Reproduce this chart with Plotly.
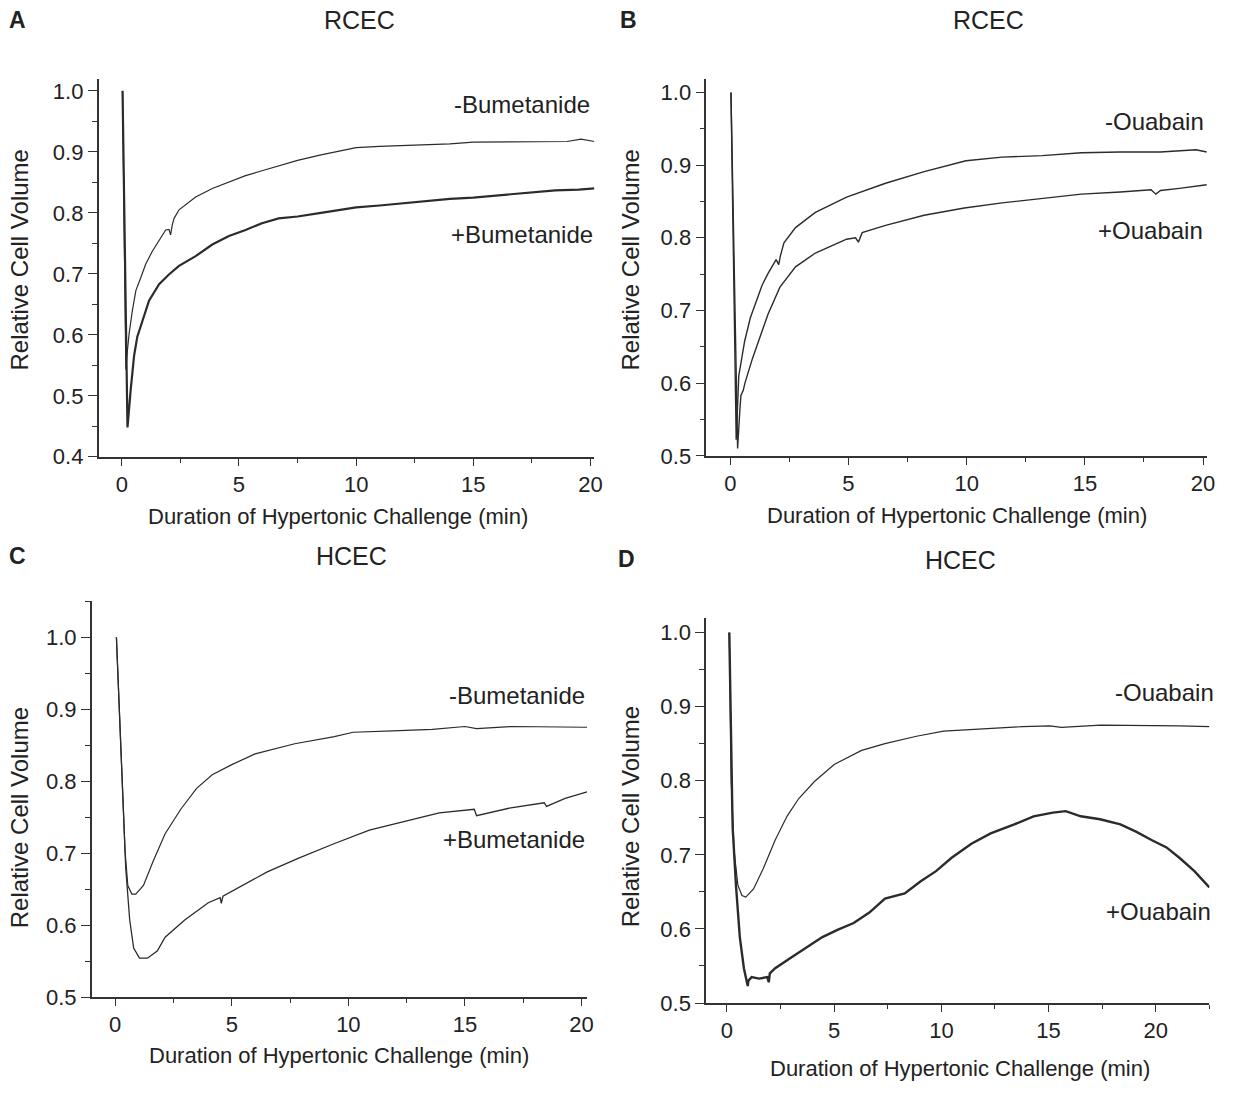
import plotly.graph_objects as go

W, H = 1233, 1095

# ---------------- Data ----------------
# Panel A: RCEC, -/+ Bumetanide
a_minus_t = [0.03, 0.10, 0.17, 0.24, 0.31, 0.45, 0.60, 0.81, 1.02, 1.30, 1.59, 1.87, 2.01, 2.08, 2.15, 2.23,
             2.44, 3.15, 3.86, 4.57, 5.28, 5.98, 6.69, 7.5, 8.5, 10.0, 11.0, 12.5, 14.0, 15.0, 16.5, 18.0,
             19.0, 19.6, 20.17]
a_minus_v = [1.000, 0.800, 0.543, 0.575, 0.602, 0.640, 0.673, 0.694, 0.716, 0.737, 0.756, 0.772, 0.773, 0.764,
             0.780, 0.791, 0.805, 0.826, 0.840, 0.851, 0.861, 0.869, 0.877, 0.886, 0.895, 0.907, 0.909, 0.911,
             0.913, 0.916, 0.916, 0.917, 0.917, 0.921, 0.917]
a_plus_t = [0.03, 0.12, 0.24, 0.38, 0.52, 0.66, 0.88, 1.16, 1.59, 2.01, 2.44, 3.15, 3.86, 4.57, 5.28, 5.98,
            6.69, 7.5, 8.5, 10.0, 11.0, 12.5, 14.0, 15.0, 16.5, 17.5, 18.5, 19.5, 20.17]
a_plus_v = [1.000, 0.740, 0.448, 0.511, 0.565, 0.597, 0.624, 0.656, 0.683, 0.699, 0.713, 0.729, 0.748, 0.762,
            0.772, 0.783, 0.791, 0.794, 0.800, 0.809, 0.812, 0.818, 0.823, 0.825, 0.830, 0.833, 0.837, 0.838,
            0.840]

# Panel B: RCEC, -/+ Ouabain
b_minus_t = [0.03, 0.25, 0.36, 0.61, 0.85, 1.10, 1.35, 1.60, 1.94, 2.05, 2.12, 2.27, 2.76, 3.60, 4.92, 6.57,
             8.2, 9.97, 11.5, 13.2, 14.85, 16.5, 18.2, 19.7, 20.15]
b_minus_v = [1.000, 0.522, 0.610, 0.658, 0.690, 0.714, 0.735, 0.751, 0.770, 0.763, 0.775, 0.793, 0.814, 0.835,
             0.856, 0.875, 0.891, 0.906, 0.911, 0.913, 0.917, 0.918, 0.918, 0.921, 0.918]
b_plus_t = [0.03, 0.31, 0.40, 0.45, 0.55, 0.62, 0.94, 1.60, 2.10, 2.76, 3.60, 4.92, 5.30, 5.42, 5.58, 6.57,
            8.2, 9.9, 11.5, 13.2, 14.85, 16.5, 17.8, 18.0, 18.2, 19.0, 20.15]
b_plus_v = [1.000, 0.510, 0.560, 0.583, 0.590, 0.600, 0.634, 0.695, 0.732, 0.760, 0.779, 0.798, 0.800, 0.794,
            0.807, 0.817, 0.831, 0.841, 0.848, 0.854, 0.860, 0.863, 0.866, 0.860, 0.865, 0.868, 0.873]

# Panel C: HCEC, -/+ Bumetanide
c_minus_t = [0.05, 0.29, 0.42, 0.54, 0.71, 0.88, 1.21, 1.63, 2.14, 2.81, 3.49, 4.16, 5.0, 6.0, 7.7, 9.4,
             10.2, 11.9, 13.6, 15.0, 15.5, 16.97, 18.65, 20.24]
c_minus_v = [1.000, 0.800, 0.703, 0.655, 0.643, 0.643, 0.655, 0.689, 0.727, 0.761, 0.790, 0.809, 0.823, 0.838,
             0.852, 0.862, 0.868, 0.870, 0.872, 0.876, 0.873, 0.876, 0.876, 0.875]
c_plus_t = [0.05, 0.29, 0.45, 0.62, 0.79, 1.04, 1.38, 1.80, 2.14, 2.98, 3.99, 4.50, 4.55, 4.62, 5.17, 6.52,
            7.87, 9.38, 10.9, 12.6, 13.9, 15.4, 15.5, 16.97, 18.4, 18.5, 19.3, 20.24]
c_plus_v = [1.000, 0.800, 0.679, 0.607, 0.568, 0.554, 0.554, 0.564, 0.583, 0.607, 0.631, 0.638, 0.630, 0.640,
            0.650, 0.674, 0.693, 0.713, 0.732, 0.746, 0.756, 0.761, 0.752, 0.763, 0.770, 0.765, 0.776, 0.785]

# Panel D: HCEC, -/+ Ouabain
d_minus_t = [0.11, 0.20, 0.33, 0.51, 0.70, 0.88, 1.24, 1.70, 2.25, 2.80, 3.35, 4.08, 5.0, 6.28, 7.37, 8.84,
             10.1, 11.95, 13.78, 15.06, 15.6, 17.43, 19.27, 21.1, 22.5]
d_minus_v = [1.000, 0.799, 0.706, 0.659, 0.645, 0.643, 0.654, 0.682, 0.720, 0.752, 0.776, 0.799, 0.822, 0.841,
             0.850, 0.860, 0.867, 0.870, 0.873, 0.874, 0.872, 0.875, 0.875, 0.874, 0.873]
d_plus_t = [0.11, 0.20, 0.25, 0.27, 0.33, 0.42, 0.60, 0.79, 0.97, 1.00, 1.15, 1.50, 1.88, 1.95, 2.00, 2.25,
            2.98, 3.71, 4.45, 5.18, 5.91, 6.64, 7.37, 8.29, 9.02, 9.75, 10.48, 11.4, 12.3, 13.4, 14.3, 15.2,
            15.8, 16.5, 17.4, 18.35, 19.1, 19.8, 20.5, 21.1, 21.8, 22.5]
d_plus_v = [1.000, 0.799, 0.760, 0.735, 0.700, 0.659, 0.589, 0.547, 0.523, 0.530, 0.535, 0.533, 0.535, 0.528,
            0.540, 0.547, 0.561, 0.575, 0.589, 0.599, 0.608, 0.622, 0.641, 0.648, 0.664, 0.678, 0.696, 0.715,
            0.729, 0.741, 0.752, 0.757, 0.759, 0.752, 0.748, 0.741, 0.731, 0.720, 0.710, 0.696, 0.678, 0.656]

panel_letters = ["A", "B", "C", "D"]
panel_titles = ["RCEC", "RCEC", "HCEC", "HCEC"]
curve_labels = [("-Bumetanide", "+Bumetanide"), ("-Ouabain", "+Ouabain"),
                ("-Bumetanide", "+Bumetanide"), ("-Ouabain", "+Ouabain")]
x_title = "Duration of Hypertonic Challenge (min)"
y_title = "Relative Cell Volume"

# ---------------- Layout ----------------
FONT = "Liberation Sans, Arial, Helvetica, sans-serif"
INK = "#222222"
LINE = "#2b2b2b"


def px(x):
    return x / W


def py(y):
    return 1 - y / H


panels = [
    dict(xr=[-0.99, 20.17], yr=[0.4, 1.019], dx=[99.3, 598.3], dy=[79.3, 461.7],
         series=[(a_minus_t, a_minus_v, 1.2), (a_plus_t, a_plus_v, 2.2)],
         letter=(18, 19), title=(362, 19), lab1=(596, 105), lab2=(599, 237),
         xt=(340, 522), yt=(20, 262)),
    dict(xr=[-1.01, 20.17], yr=[0.5, 1.019], dx=[711, 1215], dy=[78.6, 460.7],
         series=[(b_minus_t, b_minus_v, 1.4), (b_plus_t, b_plus_v, 1.4)],
         letter=(633, 19), title=(995, 19), lab1=(1214, 122), lab2=(1213, 232),
         xt=(963, 521), yt=(635, 262)),
    dict(xr=[-1.01, 20.24], yr=[0.5, 1.05], dx=[92.3, 590.9], dy=[608.1, 1008.9],
         series=[(c_minus_t, c_minus_v, 1.2), (c_plus_t, c_plus_v, 1.3)],
         letter=(18, 562), title=(354, 562), lab1=(591, 704), lab2=(591, 849),
         xt=(341, 1068), yt=(20, 827)),
    dict(xr=[-0.973, 22.5], yr=[0.5, 1.0196], dx=[710.7, 1217.3], dy=[625, 1015],
         series=[(d_minus_t, d_minus_v, 1.2), (d_plus_t, d_plus_v, 2.4)],
         letter=(631, 565), title=(967, 566), lab1=(1224, 700), lab2=(1221, 922),
         xt=(966, 1081), yt=(635, 826)),
]

fig = go.Figure()
annotations = []
layout_axes = {}

for i, p in enumerate(panels):
    n = "" if i == 0 else str(i + 1)
    xa, ya = "x" + n, "y" + n
    for t, v, w in p["series"]:
        fig.add_trace(go.Scatter(x=t, y=v, mode="lines", xaxis=xa, yaxis=ya,
                                 line=dict(color=LINE, width=w), showlegend=False,
                                 hoverinfo="skip"))
    common = dict(showline=True, linecolor="#333333", linewidth=1.6, showgrid=False,
                  zeroline=False, ticks="outside", tickcolor="#333333", tickwidth=1.4,
                  tickfont=dict(family=FONT, size=22, color=INK), mirror=False)
    layout_axes["xaxis" + n] = dict(
        common, domain=[px(p["dx"][0]), px(p["dx"][1])], range=p["xr"], anchor=ya,
        tick0=0, dtick=5, ticklen=7,
        minor=dict(ticks="outside", dtick=2.5, tick0=0, ticklen=4, tickcolor="#333333",
                   tickwidth=1.2, showgrid=False))
    layout_axes["yaxis" + n] = dict(
        common, domain=[py(p["dy"][1]), py(p["dy"][0])], range=p["yr"], anchor=xa,
        tick0=0, dtick=0.1, tickformat=".1f", ticklen=9,
        minor=dict(ticks="outside", dtick=0.05, tick0=0, ticklen=5, tickcolor="#333333",
                   tickwidth=1.2, showgrid=False))

    lx, ly = p["letter"]
    annotations.append(dict(text="<b>%s</b>" % panel_letters[i], x=px(lx), y=py(ly), xref="paper",
                            yref="paper", showarrow=False, xanchor="center", yanchor="middle",
                            font=dict(family=FONT, size=23, color=INK)))
    tx, ty = p["title"]
    annotations.append(dict(text=panel_titles[i], x=px(tx), y=py(ty), xref="paper", yref="paper",
                            showarrow=False, xanchor="center", yanchor="middle",
                            font=dict(family=FONT, size=25, color=INK)))
    for (lxx, lyy), lab in zip([p["lab1"], p["lab2"]], curve_labels[i]):
        annotations.append(dict(text=lab, x=px(lxx), y=py(lyy), xref="paper", yref="paper",
                                showarrow=False, xanchor="right", yanchor="middle",
                                font=dict(family=FONT, size=24, color=INK)))
    xx, xy = p["xt"]
    annotations.append(dict(text=x_title, x=px(xx), y=py(xy), xref="paper", yref="paper",
                            showarrow=False, xanchor="center", yanchor="middle",
                            font=dict(family=FONT, size=22, color=INK)))
    yx, yy = p["yt"]
    annotations.append(dict(text=y_title, x=px(yx), y=py(yy), xref="paper", yref="paper",
                            showarrow=False, xanchor="center", yanchor="middle", textangle=-90,
                            font=dict(family=FONT, size=24, color=INK)))

fig.update_layout(
    width=W, height=H, margin=dict(l=0, r=0, t=0, b=0),
    paper_bgcolor="white", plot_bgcolor="white",
    font=dict(family=FONT, color=INK),
    annotations=annotations, showlegend=False,
    **layout_axes,
)

fig.write_html("out.html", config={"displayModeBar": False},
               post_script="document.body.style.margin='0';document.body.style.overflow='hidden';")
